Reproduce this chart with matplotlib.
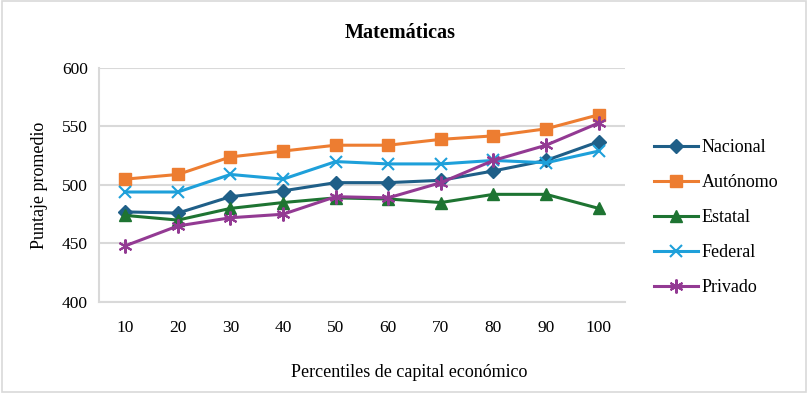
import matplotlib
matplotlib.use("Agg")
import matplotlib.pyplot as plt

# percentiles y puntajes
percentiles = ["10", "20", "30", "40", "50", "60", "70", "80", "90", "100"]
nacional = [477, 476, 490, 495, 502, 502, 504, 512, 521, 537]
autonomo = [505, 509, 524, 529, 534, 534, 539, 542, 548, 560]
estatal = [474, 470, 480, 485, 489, 488, 485, 492, 492, 480]
federal = [494, 494, 509, 505, 520, 518, 518, 521, 519, 529]
privado = [448, 465, 472, 475, 490, 489, 502, 521, 534, 553]

plt.rcParams['font.family'] = ['Liberation Serif', 'DejaVu Serif']

fig = plt.figure(figsize=(8.08, 3.93), dpi=100)
ax = fig.add_axes([0.1225, 0.2316, 0.651, 0.5954])

x = range(len(percentiles))
ax.plot(x, nacional, color='#1F5F88', marker='D', markersize=7, lw=2.2, label='Nacional')
ax.plot(x, autonomo, color='#ED7D31', marker='s', markersize=9, lw=2.2, label='Autónomo')
ax.plot(x, estatal, color='#1E7432', marker='^', markersize=9, lw=2.2, label='Estatal')
ax.plot(x, federal, color='#1EA0DA', marker='x', markersize=9, mew=1.5, lw=2.2, label='Federal')
ax.plot(x, privado, color='#933A93', marker=(6, 2, 0), markersize=10, mew=1.5, lw=2.2, label='Privado')

ax.set_xlim(-0.5, 9.5)
ax.set_ylim(400, 600)
ax.set_yticks([400, 450, 500, 550, 600])
ax.set_xticks(list(x))
ax.set_xticklabels(percentiles)
ax.tick_params(length=0, labelsize=12.5)
ax.tick_params(axis='x', pad=13)
ax.tick_params(axis='y', pad=8)
ax.grid(axis='y', color='#D9D9D9', lw=1.5)
ax.set_axisbelow(True)
for s in ['top', 'right']:
    ax.spines[s].set_visible(False)
ax.spines['left'].set_color('#D9D9D9')
ax.spines['bottom'].set_color('#D9D9D9')
ax.spines['left'].set_linewidth(1.5)
ax.spines['bottom'].set_linewidth(1.5)

ax.set_ylabel('Puntaje promedio', fontsize=13, labelpad=10)
fig.text(0.507, 0.04, 'Percentiles de capital económico', ha='center', fontsize=13)
fig.text(0.495, 0.915, 'Matemáticas', ha='center', va='center', fontsize=14.5, fontweight='bold')

ax.legend(loc='center left', bbox_to_anchor=(1.025, 0.36), frameon=False, fontsize=13,
          handlelength=2.4, labelspacing=1.0, handletextpad=0.2)

# borde gris alrededor
fig.patches.append(plt.Rectangle((0.002, 0.003), 0.996, 0.994, transform=fig.transFigure,
                                 fill=False, edgecolor='#D9D9D9', lw=1.2))

fig.savefig('out.png', dpi=100)
